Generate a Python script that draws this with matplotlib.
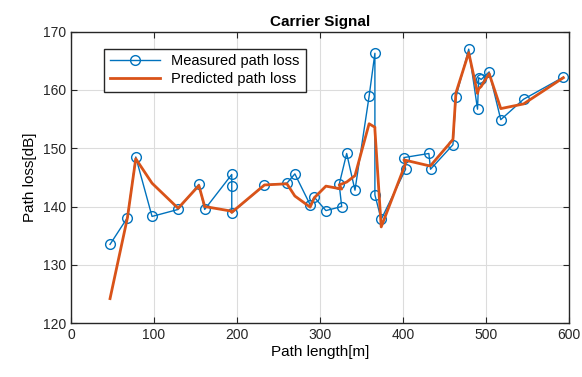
import numpy as np
import matplotlib.pyplot as plt

plt.rcParams['font.family'] = ['Liberation Sans', 'DejaVu Sans']

# distancias de cada medicion [m]
distancia = [47, 68, 78, 97.6, 129, 154, 161, 193.6, 193.6, 193.6,
             233, 260, 269.6, 288, 293, 307, 326, 323, 332, 342,
             359, 366, 366, 373.6, 403, 401, 431, 433, 460, 463.6,
             479, 489.6, 491, 494, 503.6, 517.6, 545, 593]

# perdida medida [dB]
medida = [133.5, 138.1, 148.5, 138.3, 139.5, 143.8, 139.5, 145.5, 143.5, 138.9,
          143.7, 144.0, 145.6, 140.3, 141.6, 139.3, 140.0, 143.8, 149.1, 142.8,
          158.9, 166.3, 142.0, 137.8, 146.4, 148.4, 149.1, 146.4, 150.6, 158.8,
          167.0, 156.7, 162.1, 161.8, 163.1, 154.9, 158.4, 162.2]

# perdida predicha por el modelo [dB]
predicha = [124.2, 138.1, 148.2, 144.0, 139.7, 143.6, 140.0, 139.2, 139.1, 139.0,
            143.7, 143.9, 141.8, 139.9, 141.5, 143.5, 143.0, 143.7, 144.2, 145.3,
            154.2, 153.6, 153.2, 136.5, 147.4, 148.0, 147.0, 147.0, 151.5, 159.5,
            166.4, 159.4, 160.2, 160.6, 162.8, 156.8, 157.6, 162.1]

fig = plt.figure(figsize=(5.82, 3.77), dpi=100)
ax = fig.add_axes([0.122, 0.143, 0.856, 0.773])

ax.plot(distancia, medida, color='#0072BD', lw=1.0, marker='o', ms=7,
        mfc='none', mew=1.0, label='Measured path loss')
ax.plot(distancia, predicha, color='#D95319', lw=2.0, label='Predicted path loss')

ax.set_xlim(0, 600)
ax.set_ylim(120, 170)
ax.set_xticks(np.arange(0, 601, 100))
ax.set_yticks(np.arange(120, 171, 10))
ax.grid(True, color='#dcdcdc', lw=0.8)
ax.set_axisbelow(True)
ax.tick_params(direction='in', top=True, right=True, labelsize=10, length=4,
               colors='#262626')
for s in ax.spines.values():
    s.set_color('#262626')
    s.set_linewidth(1.0)

ax.set_title('Carrier Signal', fontsize=11, fontweight='bold', pad=4)
ax.set_xlabel('Path length[m]', fontsize=11, labelpad=2)
ax.set_ylabel('Path loss[dB]', fontsize=11, labelpad=4)

leg = ax.legend(loc='upper left', bbox_to_anchor=(0.067, 0.942), borderaxespad=0,
                fontsize=10.5, handlelength=3.4, fancybox=False, framealpha=1,
                edgecolor='#262626', borderpad=0.4, labelspacing=0.25)
leg.get_frame().set_linewidth(1.0)

fig.savefig('out.png', dpi=100)
